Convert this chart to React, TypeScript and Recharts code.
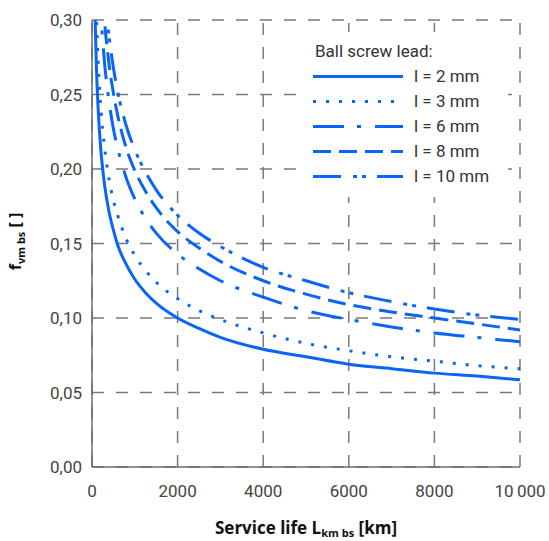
import React from 'react';
import { ComposedChart, Line, XAxis, YAxis, CartesianGrid, Legend } from 'recharts';

// Service life L [km]
const LIFE = [50, 75, 100, 150, 200, 250, 300, 400, 500, 600, 800, 1000, 1250, 1500, 2000, 2500, 3000, 4000, 5000, 6000, 7000, 8000, 9000, 10000];

// f_vm bs values, per ball screw lead
const LEAD_2 = [0.342, 0.299, 0.271, 0.237, 0.215, 0.200, 0.188, 0.171, 0.159, 0.149, 0.136, 0.126, 0.117, 0.110, 0.100, 0.093, 0.087, 0.079, 0.074, 0.069, 0.066, 0.063, 0.061, 0.0585];
const LEAD_3 = [0.386, 0.338, 0.307, 0.268, 0.243, 0.226, 0.213, 0.193, 0.179, 0.169, 0.153, 0.142, 0.132, 0.124, 0.113, 0.105, 0.099, 0.090, 0.083, 0.078, 0.074, 0.071, 0.068, 0.066];
const LEAD_6 = [0.489, 0.427, 0.388, 0.339, 0.308, 0.286, 0.269, 0.245, 0.227, 0.214, 0.194, 0.180, 0.167, 0.157, 0.143, 0.133, 0.125, 0.114, 0.105, 0.099, 0.094, 0.090, 0.087, 0.084];
const LEAD_8 = [0.540, 0.472, 0.429, 0.375, 0.340, 0.316, 0.297, 0.270, 0.251, 0.236, 0.214, 0.199, 0.185, 0.174, 0.158, 0.147, 0.138, 0.125, 0.116, 0.109, 0.104, 0.100, 0.096, 0.092];
const LEAD_10 = [0.578, 0.505, 0.459, 0.401, 0.364, 0.338, 0.318, 0.289, 0.268, 0.252, 0.229, 0.213, 0.198, 0.186, 0.169, 0.157, 0.148, 0.134, 0.125, 0.117, 0.111, 0.106, 0.102, 0.099];

const SERIES_NAMES = ['l = 2 mm', 'l = 3 mm', 'l = 6 mm', 'l = 8 mm', 'l = 10 mm'];
const LEGEND_TITLE = 'Ball screw lead:';

const X_TICKS = [0, 2000, 4000, 6000, 8000, 10000];
const X_MINOR_TICKS = [0, 500, 1000, 1500, 2000, 2500, 3000, 3500, 4000, 4500, 5000, 5500, 6000, 6500, 7000, 7500, 8000, 8500, 9000, 9500, 10000];
const Y_TICKS = [0, 0.05, 0.1, 0.15, 0.2, 0.25, 0.3];
const Y_MINOR_TICKS = [0, 0.01, 0.02, 0.03, 0.04, 0.05, 0.06, 0.07, 0.08, 0.09, 0.1, 0.11, 0.12, 0.13, 0.14, 0.15, 0.16, 0.17, 0.18, 0.19, 0.2, 0.21, 0.22, 0.23, 0.24, 0.25, 0.26, 0.27, 0.28, 0.29, 0.3];

const BLUE = '#0a64f5';
const AXIS = '#6b6b6b';
const TICK_FONT = 'Roboto, sans-serif';
const TITLE_FONT = '"Open Sans", Lato, sans-serif';

const SERIES = [
  { key: 'l2', name: SERIES_NAMES[0], values: LEAD_2, dash: undefined as string | undefined },
  { key: 'l3', name: SERIES_NAMES[1], values: LEAD_3, dash: '3 10' },
  { key: 'l6', name: SERIES_NAMES[2], values: LEAD_6, dash: '31 13 4 14' },
  { key: 'l8', name: SERIES_NAMES[3], values: LEAD_8, dash: '18 8' },
  { key: 'l10', name: SERIES_NAMES[4], values: LEAD_10, dash: '28 12 4 5 4 11' },
];

const data = LIFE.map((L, i) => {
  const row: Record<string, number> = { L };
  SERIES.forEach((s) => {
    row[s.key] = s.values[i];
  });
  return row;
});

const fmtX = (v: number) => (v === 10000 ? '10\u2009000' : String(v));
const fmtY = (v: number) => v.toFixed(2).replace('.', ',');

const XTitle = (props: any) => {
  const vb = props.viewBox || {};
  const cx = vb.x + vb.width / 2;
  const y = vb.y + 67;
  return (
    <text x={cx} y={y} textAnchor="middle" fontFamily={TITLE_FONT} fontWeight={700} fontSize={17} fill="#111">
      <tspan>Service life L</tspan>
      <tspan fontSize={11} dy={3}>km bs</tspan>
      <tspan dy={-3}> [km]</tspan>
    </text>
  );
};

const YTitle = (props: any) => {
  const vb = props.viewBox || {};
  const x = 21;
  const cy = vb.y + vb.height / 2 - 2;
  return (
    <text x={x} y={cy} transform={`rotate(-90, ${x}, ${cy})`} textAnchor="middle" fontFamily={TITLE_FONT} fontWeight={700} fontSize={16} fill="#111">
      <tspan>f</tspan>
      <tspan fontSize={11} dy={4}>vm bs</tspan>
      <tspan dy={-4}> [ ]</tspan>
    </text>
  );
};

const renderLegend = () => (
  <div
    style={{
      fontFamily: TICK_FONT,
      fontSize: 17,
      color: '#333',
      lineHeight: '25px',
      whiteSpace: 'nowrap',
      background: '#fff',
      width: 195,
      height: 158,
      padding: '7px 0 0 13px',
      boxSizing: 'content-box',
    }}
  >
    <div style={{ paddingLeft: 2, height: 25 }}>{LEGEND_TITLE}</div>
    {SERIES.map((s) => (
      <div key={s.key} style={{ display: 'flex', alignItems: 'center', height: 25 }}>
        <svg width={90} height={25} style={{ display: 'block' }}>
          <line x1={0} y1={12.5} x2={90} y2={12.5} stroke={BLUE} strokeWidth={3} strokeDasharray={s.dash} />
        </svg>
        <span style={{ marginLeft: 11 }}>{s.name}</span>
      </div>
    ))}
  </div>
);

export default function App() {
  return (
    <div style={{ position: 'absolute', left: 0, top: 0 }}>
      <ComposedChart width={549} height={541} data={data} margin={{ top: 20, right: 29, bottom: 0, left: 0 }}>
        <CartesianGrid xAxisId="x" yAxisId="y" vertical={false} stroke="#7a7a7a" strokeWidth={1.5} strokeDasharray="12 12" />
        <CartesianGrid xAxisId="x" yAxisId="y" horizontal={false} stroke="#7a7a7a" strokeWidth={1.5} strokeDasharray="12 12" strokeDashoffset={21} />
        <XAxis
          xAxisId="x"
          dataKey="L"
          type="number"
          domain={[0, 10000]}
          ticks={X_TICKS}
          tickFormatter={fmtX}
          height={74}
          tickLine={false}
          tickSize={6}
          tickMargin={12}
          axisLine={{ stroke: AXIS, strokeWidth: 1.5 }}
          tick={{ fontFamily: TICK_FONT, fontSize: 17, fill: '#444' }}
          label={{ content: XTitle }}
        />
        <YAxis
          yAxisId="y"
          type="number"
          domain={[0, 0.3]}
          allowDataOverflow
          ticks={Y_TICKS}
          tickFormatter={fmtY}
          width={92}
          tickLine={false}
          tickSize={6}
          tickMargin={4}
          axisLine={{ stroke: AXIS, strokeWidth: 1.5 }}
          tick={{ fontFamily: TICK_FONT, fontSize: 17, fill: '#444' }}
          label={{ content: YTitle }}
        />
        {/* inward minor ticks and box frame */}
        <XAxis xAxisId="xb" type="number" orientation="bottom" mirror domain={[0, 10000]} allowDataOverflow ticks={X_MINOR_TICKS} tick={false} tickSize={4} height={0} axisLine={false} tickLine={{ stroke: AXIS, strokeWidth: 1.2 }} />
        <XAxis xAxisId="xt" type="number" orientation="top" mirror domain={[0, 10000]} allowDataOverflow ticks={X_MINOR_TICKS} tick={false} tickSize={4} height={0} axisLine={{ stroke: AXIS, strokeWidth: 1.5 }} tickLine={{ stroke: AXIS, strokeWidth: 1.2 }} />
        <YAxis yAxisId="yl" type="number" orientation="left" mirror domain={[0, 0.3]} allowDataOverflow ticks={Y_MINOR_TICKS} tick={false} tickSize={4} width={0} axisLine={false} tickLine={{ stroke: AXIS, strokeWidth: 1.2 }} />
        <YAxis yAxisId="yr" type="number" orientation="right" mirror domain={[0, 0.3]} allowDataOverflow ticks={Y_MINOR_TICKS} tick={false} tickSize={4} width={0} axisLine={{ stroke: AXIS, strokeWidth: 1.5 }} tickLine={{ stroke: AXIS, strokeWidth: 1.2 }} />
        <Legend
          layout="vertical"
          align="center"
          verticalAlign="middle"
          content={renderLegend}
          wrapperStyle={{ left: 300, top: 32, width: 'auto' }}
        />
        {SERIES.map((s) => (
          <Line
            key={s.key}
            xAxisId="x"
            yAxisId="y"
            dataKey={s.key}
            name={s.name}
            type="monotone"
            stroke={BLUE}
            strokeWidth={3}
            strokeDasharray={s.dash}
            dot={false}
            activeDot={false}
            isAnimationActive={false}
          />
        ))}
      </ComposedChart>
    </div>
  );
}
